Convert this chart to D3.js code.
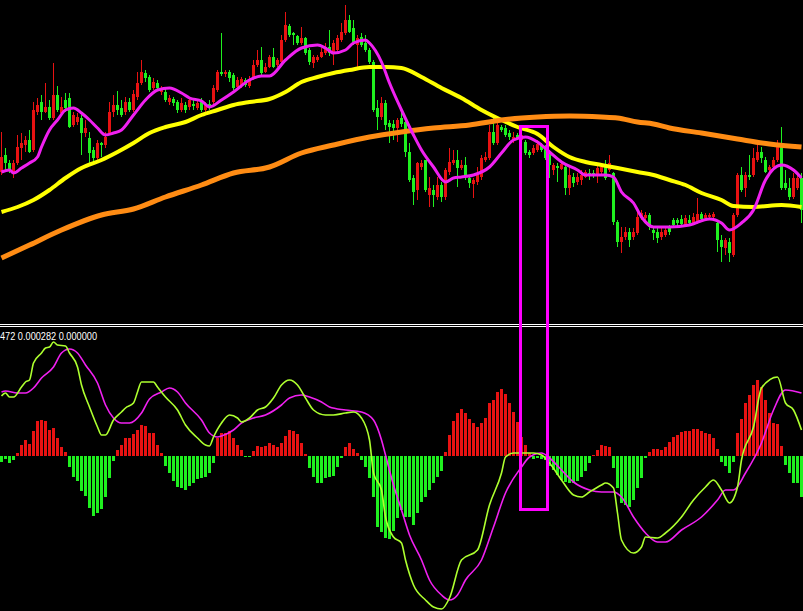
<!DOCTYPE html>
<html><head><meta charset="utf-8">
<script src="https://cdn.jsdelivr.net/npm/d3@7"></script>
<style>html,body{margin:0;padding:0;background:#000;overflow:hidden}</style>
</head><body><svg id="c" width="803" height="611"></svg>
<script>
// ---------- DATA (prices in points, MACD in 1e-6 units) ----------
const open = [228,245,237,227,237,252,255,260,250,288, 298,288,293,282,305,287,300,302,275,278, 282,267,262,250,242,257,255,267,288,295, 292,288,298,290,303,317,327,323,312,317, 308,308,298,301,298,290,295,293,296,292, 300,290,296,298,310,328,326,328,325,313, 315,320,314,321,335,340,328,333,343,335, 338,360,374,367,364,357,362,350,337,340, 343,347,353,347,350,360,367,380,372,355, 363,357,350,338,292,283,297,277,276,272, 282,278,248,222,210,233,240,205,210,203, 215,203,228,237,240,232,235,222,216,218, 223,240,242,268,257,273,272,267,260,265, 260,258,248,247,250,255,252,245,230,234, 231,233,212,223,218,220,223,227,227,225, 228,233,230,227,178,158,163,168,163,167, 182,182,185,170,168,163,165,172,180,180, 181,175,180,177,178,186,182,183,183,177, 160,152,158,145,185,225,212,225,225,240, 248,240,230,233,240,253,217,212,203,212, 222];
const close = [243,237,230,237,253,257,260,248,290,295, 288,293,282,305,290,293,292,273,285,283, 267,272,247,242,257,255,263,288,295,290, 285,298,290,306,317,328,322,310,318,312, 312,300,302,297,290,297,290,300,294,297, 290,295,293,312,328,326,328,322,312,320, 321,315,320,335,340,327,333,343,333,340, 360,375,365,365,357,362,347,338,343,343, 348,353,347,357,362,368,380,368,358,362, 355,350,338,290,283,297,275,273,272,280, 276,248,220,208,237,237,210,212,205,215, 203,230,238,240,232,235,223,217,220,225, 242,243,268,257,275,270,265,263,263,262, 265,247,245,252,256,250,242,235,235,232, 236,212,225,217,223,225,228,224,224,232, 233,222,237,178,158,163,168,160,168,183, 187,185,173,167,162,168,170,168,175,177, 176,182,177,183,186,181,185,185,186,160, 153,160,147,185,225,210,225,223,242,248, 242,228,233,240,255,212,212,203,222,222, 190];
const high = [268,252,240,240,265,267,264,270,298,302, 305,317,300,337,314,303,307,307,288,287, 285,280,268,253,260,258,268,298,305,309, 300,303,302,310,328,340,330,325,322,320, 314,312,305,303,300,302,298,303,300,300, 302,298,300,315,330,367,330,330,327,323, 323,322,324,340,350,353,337,345,352,342, 365,388,376,368,365,373,363,352,345,345, 352,357,370,360,365,377,395,385,380,365, 367,365,352,340,300,303,300,280,280,282, 288,280,257,225,238,240,240,223,215,223, 218,232,252,250,250,240,243,225,222,233, 245,248,275,282,278,275,275,270,268,267, 270,260,250,255,260,257,255,250,237,237, 238,235,233,227,227,230,230,231,230,235, 237,240,245,228,180,173,173,172,172,188, 190,188,187,173,172,172,173,175,182,182, 185,185,185,187,202,188,187,187,188,180, 165,162,162,187,227,233,228,245,252,257, 253,243,235,243,260,273,230,222,227,227, 227];
const low = [225,230,227,222,235,240,248,247,248,285, 280,287,280,280,288,285,288,272,273,275, 245,263,237,237,240,243,252,265,283,285, 283,285,288,288,300,315,318,308,310,310, 305,298,295,294,287,288,287,290,290,290, 288,288,290,296,308,324,323,318,310,310, 312,313,312,320,333,325,327,332,332,333, 336,358,363,355,355,355,345,335,332,338, 342,345,344,335,348,358,365,367,355,333, 353,348,336,288,270,280,270,257,260,258, 273,243,218,195,200,230,208,193,193,200, 198,200,225,235,213,230,220,212,202,215, 220,238,240,255,255,268,263,260,257,260, 258,245,242,245,248,248,240,222,225,218, 230,205,205,213,215,215,222,220,222,217, 225,220,228,175,153,147,160,153,160,165, 180,178,170,160,157,160,163,165,172,174, 173,174,174,175,176,179,180,181,180,148, 138,145,138,143,183,208,203,220,223,238, 237,227,228,230,238,210,210,200,201,210, 177];

// moving averages: [bar index, price]
const maFast = [[0,228],[2,230],[3,227],[5,232],[7,237],[9,243],[10,253],[12,270],[14,280],[16,290],[18,292],[20,287],[22,280],[24,272],[26,265],[28,267],[30,270],[33,285],[36,300],[39,310],[42,312],[45,307],[47,302],[50,299],[52,293],[55,300],[58,308],[62,320],[65,324],[67,324],[71,340],[75,352],[79,355],[81,352],[83,347],[86,350],[88,357],[91,360],[92,357],[95,338],[97,317],[100,290],[103,265],[105,250],[108,233],[111,218],[113,222],[115,223],[118,225],[122,233],[125,247],[128,260],[131,263],[134,258],[137,248],[140,238],[144,230],[146,225],[151,225],[153,223],[155,208],[158,197],[160,183],[163,173],[167,173],[172,175],[177,181],[180,177],[182,170],[185,177],[188,190],[191,220],[195,235],[198,230],[200,222]];
const maMid = [[0,188],[4,193],[8,200],[12,210],[16,222],[20,232],[25,240],[29,248],[33,257],[37,267],[41,273],[46,278],[50,285],[54,290],[58,295],[62,298],[67,301],[71,308],[75,318],[79,323],[83,327],[87,330],[92,333],[96,333],[100,332],[105,323],[110,312],[115,302],[120,290],[125,280],[129,273],[134,266],[138,253],[142,243],[146,238],[150,235],[154,232],[159,228],[163,225],[167,220],[171,215],[175,207],[180,200],[183,194],[188,193],[195,195],[200,193]];
const maSlow = [[0,142],[7,155],[15,170],[25,185],[33,191],[41,203],[50,215],[58,227],[67,233],[75,247],[83,255],[92,263],[100,268],[108,272],[117,275],[125,280],[134,283],[142,284],[150,283],[154,282],[159,278],[163,276],[167,272],[175,267],[184,261],[192,256],[200,253]];

// MACD histogram per bar
const hist = [-6,-3,-7,-4,3,11,16,12,25,35, 36,35,26,28,18,9,4,-11,-21,-25, -35,-40,-52,-60,-57,-53,-41,-22,-5,6, 11,18,18,22,26,31,30,23,23,11, 3,-10,-17,-25,-31,-32,-34,-30,-27,-23, -22,-21,-17,-7,18,23,23,25,18,11, 6,-1,-1,5,10,9,10,13,11,9, 13,20,26,25,22,13,2,-12,-21,-27, -27,-22,-21,-20,-11,-2,9,13,7,3, -4,-11,-22,-41,-71,-76,-82,-83,-75,-62, -54,-61,-61,-69,-57,-46,-41,-34,-27,-21, -15,4,21,35,43,47,43,37,33,29, 33,38,53,56,64,67,62,53,44,34, 19,11,3,-3,-2,-3,-4,-10,-14,-19, -24,-26,-27,-27,-25,-21,-15,-7,1,6, 11,10,9,-12,-32,-47,-49,-51,-44,-32, -22,-2,4,7,7,6,9,14,19,21, 24,25,25,27,27,25,23,22,18,7, -6,-10,-17,-6,23,37,53,61,71,76, 69,56,43,33,32,10,-9,-17,-27,-27, -41];
// MACD lines: [bar index, value]
const macdMain = [[0,60],[1,63],[2,59],[3,59],[5,69],[6,74],[7,76],[8,93],[10,103],[11,108],[12,109],[13,114],[14,111],[16,110],[17,103],[19,89],[20,71],[22,49],[24,29],[25,21],[26,21],[28,36],[30,44],[31,48],[33,53],[34,64],[35,74],[38,74],[39,69],[41,59],[44,46],[46,31],[49,18],[51,11],[52,10],[53,19],[55,33],[57,41],[59,38],[60,34],[62,38],[64,46],[66,49],[68,58],[70,71],[72,76],[74,71],[76,58],[78,46],[81,41],[83,41],[86,43],[88,44],[90,38],[92,16],[93,-17],[95,-34],[96,-61],[98,-81],[100,-87],[101,-104],[103,-129],[106,-144],[108,-151],[110,-153],[112,-142],[115,-104],[119,-94],[122,-49],[125,-17],[126,-1],[128,3],[130,3],[133,3],[135,1],[137,-7],[140,-24],[143,-39],[145,-41],[147,-36],[150,-29],[151,-27],[153,-32],[154,-57],[155,-84],[158,-97],[160,-91],[161,-81],[164,-82],[166,-77],[170,-61],[173,-44],[176,-31],[178,-24],[180,-34],[182,-47],[184,-31],[185,-4],[188,29],[190,68],[194,79],[196,53],[198,46],[200,26]];
const macdSignal = [[0,64],[1,65],[4,63],[6,63],[8,68],[10,78],[13,89],[15,103],[17,107],[19,103],[21,91],[24,73],[26,51],[28,38],[30,33],[32,33],[35,43],[37,57],[40,64],[42,68],[44,64],[46,53],[50,36],[52,23],[54,19],[55,20],[58,26],[60,33],[63,38],[66,41],[70,51],[72,58],[75,61],[77,59],[80,54],[82,49],[86,46],[90,44],[93,36],[95,16],[96,1],[98,-29],[100,-54],[102,-79],[105,-104],[107,-124],[110,-139],[112,-144],[114,-139],[116,-124],[120,-104],[123,-71],[126,-37],[130,-11],[132,-1],[135,3],[137,-2],[140,-14],[143,-26],[147,-34],[150,-36],[153,-36],[155,-41],[158,-61],[161,-77],[164,-86],[166,-86],[170,-74],[175,-61],[179,-44],[181,-34],[183,-34],[186,-17],[190,13],[193,46],[196,66],[200,63]];
const macdLabel = "472 0.000282 0.000000";
// highlighted zone: bar range, top price, bottom MACD value
const zoneBars = [129.75, 136.5];
const zoneTopPrice = 273.5;
const zoneBottomMacd = -53.5;

// ---------- DRAW ----------
const W = 803, H = 611;
const RED = "#e81212", GREEN = "#1ff01f";
const svg = d3.select("#c");
svg.append("rect").attr("width", W).attr("height", H).attr("fill", "#000");

const x = d3.scaleLinear().domain([0, 200]).range([1.5, 801.5]);
const yP = d3.scaleLinear().domain([78, 400]).range([322, 0]);
const yM = d3.scaleLinear().domain([-155, 131]).range([611, 325]);

const defs = svg.append("defs");
defs.append("clipPath").attr("id", "cm").append("rect").attr("x", 0).attr("y", 0).attr("width", W).attr("height", 323);
defs.append("clipPath").attr("id", "cd").append("rect").attr("x", 0).attr("y", 328).attr("width", W).attr("height", H - 328);

const idx = d3.range(open.length);
const gMain = svg.append("g").attr("clip-path", "url(#cm)");
const col = i => close[i] >= open[i] ? RED : GREEN;

gMain.append("g").attr("shape-rendering", "crispEdges").selectAll("rect").data(idx).join("rect")
  .attr("x", i => x(i) - 0.5).attr("width", 1)
  .attr("y", i => yP(high[i])).attr("height", i => Math.max(1, yP(low[i]) - yP(high[i])))
  .attr("fill", col);
gMain.append("g").attr("shape-rendering", "crispEdges").selectAll("rect").data(idx).join("rect")
  .attr("x", i => x(i) - 1.5).attr("width", 3)
  .attr("y", i => yP(Math.max(open[i], close[i])))
  .attr("height", i => Math.max(1, Math.abs(yP(open[i]) - yP(close[i]))))
  .attr("fill", col);

const lineP = d3.line().x(d => x(d[0])).y(d => yP(d[1])).curve(d3.curveMonotoneX);
gMain.append("path").datum(maMid).attr("d", lineP).attr("fill", "none").attr("stroke", "#ffff00").attr("stroke-width", 4);
gMain.append("path").datum(maSlow).attr("d", lineP).attr("fill", "none").attr("stroke", "#ff8c14").attr("stroke-width", 5);
gMain.append("path").datum(maFast).attr("d", lineP).attr("fill", "none").attr("stroke", "#f020f0").attr("stroke-width", 3);

// separators
svg.append("g").attr("shape-rendering", "crispEdges").selectAll("line").data([324.5, 326.5]).join("line")
  .attr("x1", 0).attr("x2", W).attr("y1", d => d).attr("y2", d => d).attr("stroke", "#ffffff").attr("stroke-width", 1);

// MACD panel
const gM = svg.append("g").attr("clip-path", "url(#cd)");
gM.append("g").attr("shape-rendering", "crispEdges").selectAll("rect").data(idx).join("rect")
  .attr("x", i => x(i) - 1.5).attr("width", 3)
  .attr("y", i => Math.min(yM(hist[i]), yM(0)))
  .attr("height", i => Math.max(1, Math.abs(yM(hist[i]) - yM(0))))
  .attr("fill", i => hist[i] >= 0 ? RED : GREEN);
const lineM = d3.line().x(d => x(d[0])).y(d => yM(d[1])).curve(d3.curveMonotoneX);
gM.append("path").datum(macdSignal).attr("d", lineM).attr("fill", "none").attr("stroke", "#f020f0").attr("stroke-width", 1.6);
gM.append("path").datum(macdMain).attr("d", lineM).attr("fill", "none").attr("stroke", "#adff2f").attr("stroke-width", 1.6);

svg.append("text").attr("x", 0).attr("y", 340).text(macdLabel)
  .attr("fill", "#ffffff").attr("font-family", "'Liberation Sans', Arial, sans-serif").attr("font-size", 10)
  .attr("textLength", 97).attr("lengthAdjust", "spacingAndGlyphs");

// highlight rectangle
svg.append("rect")
  .attr("x", x(zoneBars[0])).attr("width", x(zoneBars[1]) - x(zoneBars[0]))
  .attr("y", yP(zoneTopPrice)).attr("height", yM(zoneBottomMacd) - yP(zoneTopPrice))
  .attr("fill", "none").attr("stroke", "#ff00ff").attr("stroke-width", 3);
</script></body></html>
